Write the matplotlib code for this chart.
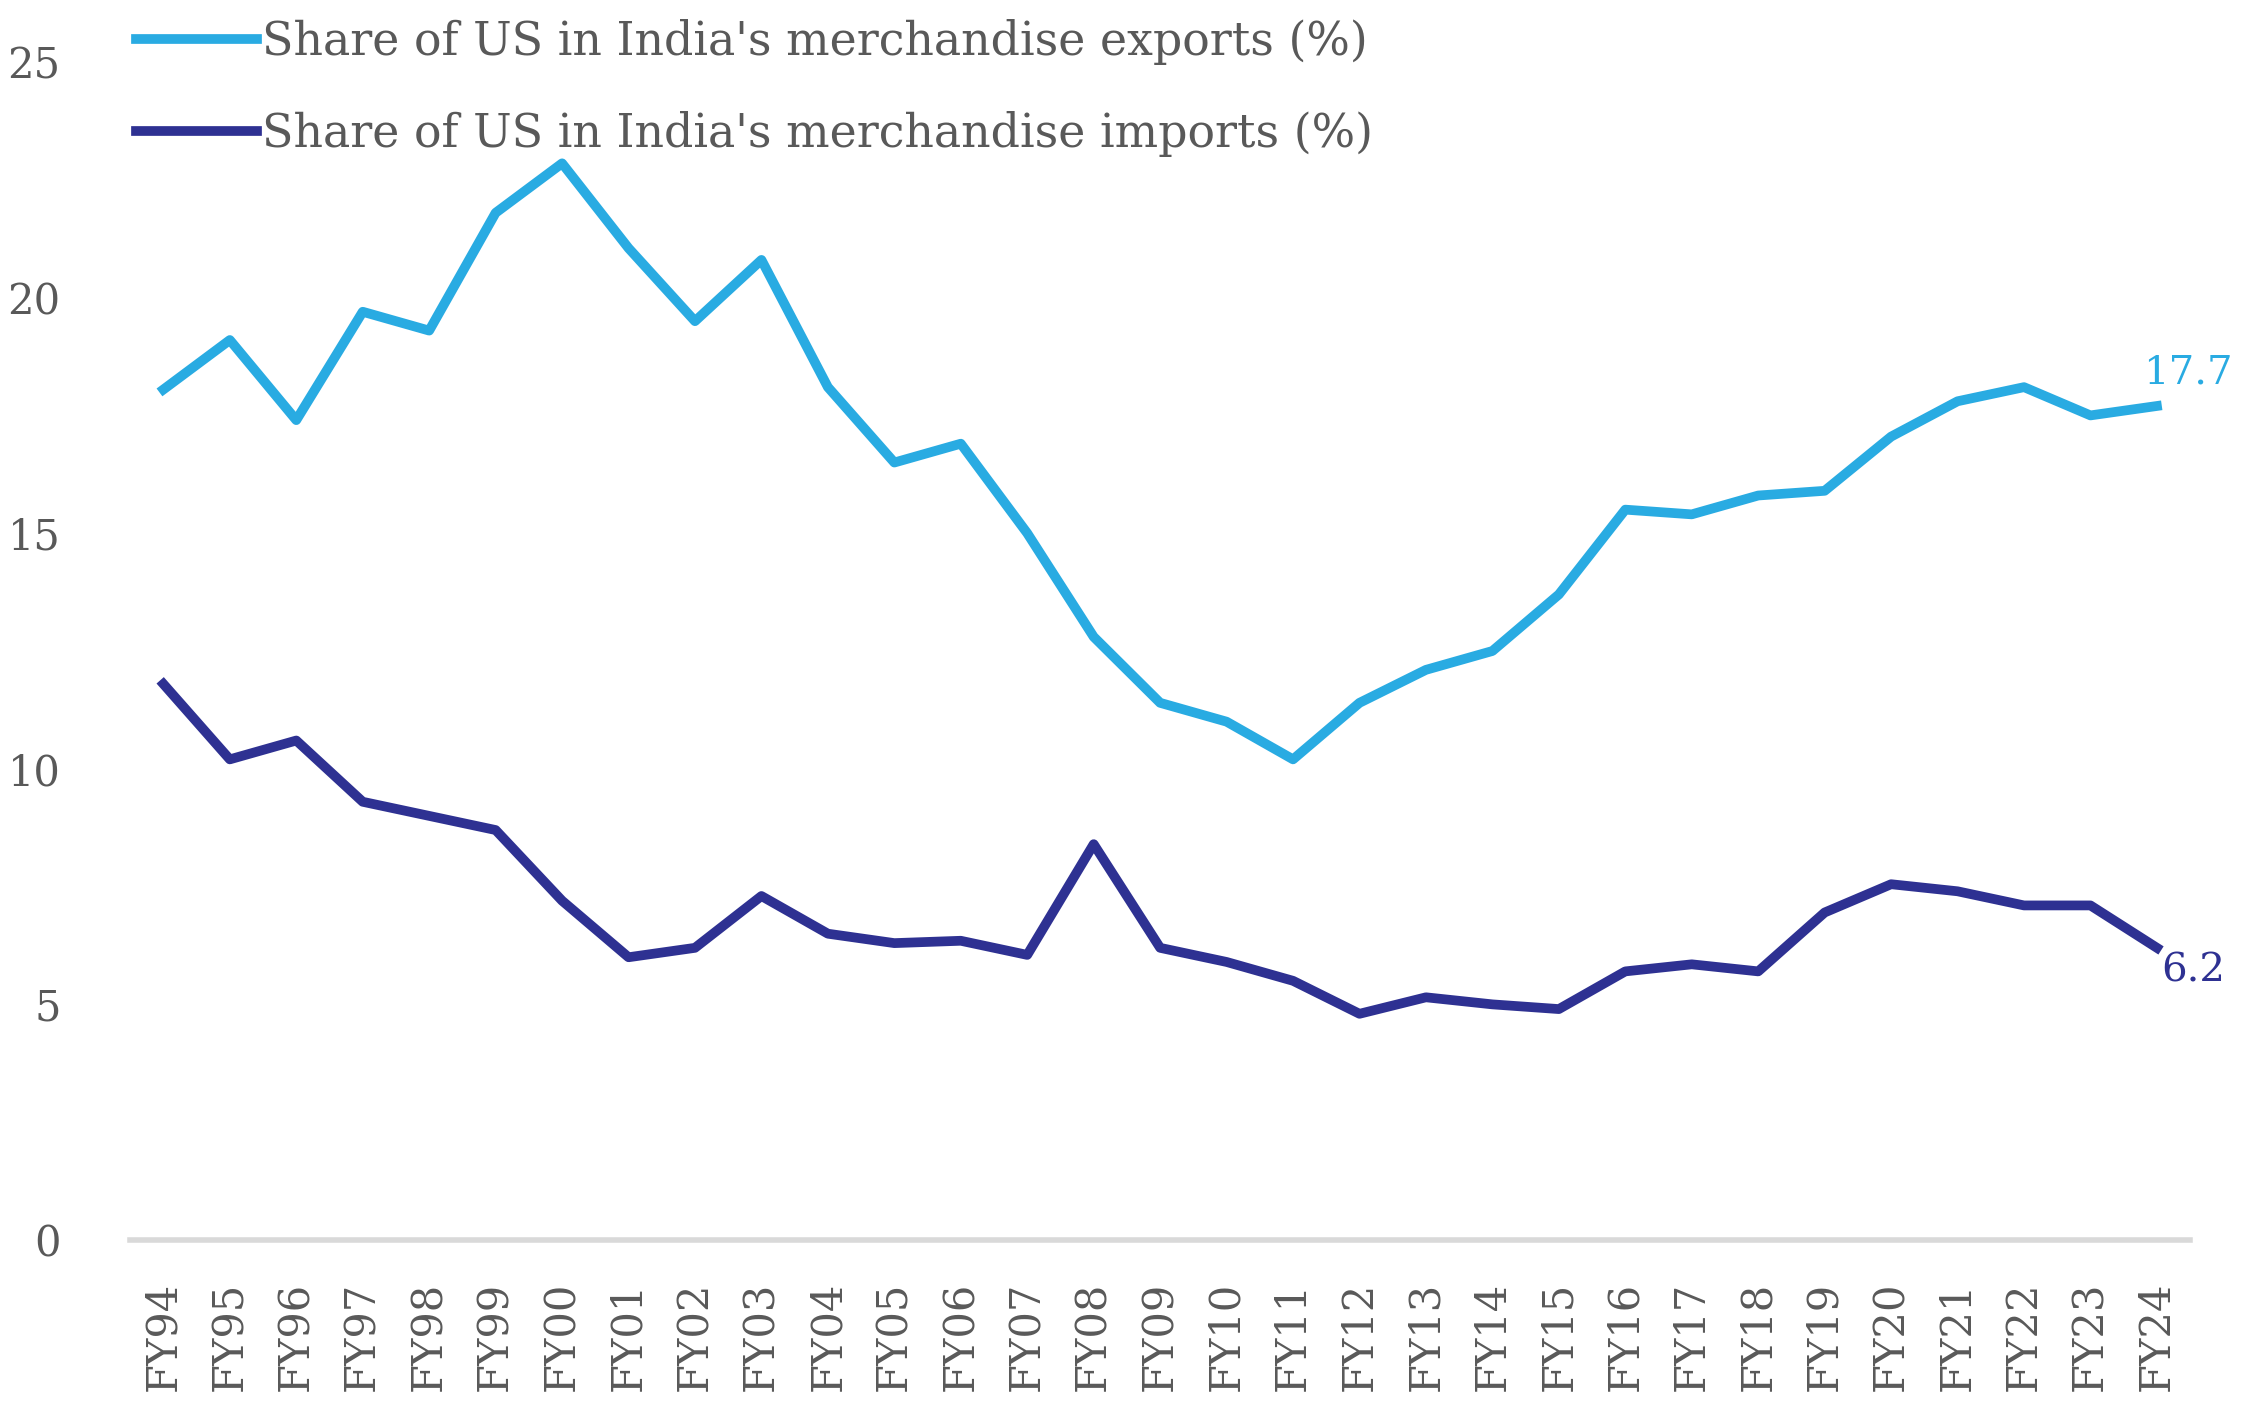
import matplotlib
matplotlib.use('Agg')
import matplotlib.pyplot as plt

years = ['FY94', 'FY95', 'FY96', 'FY97', 'FY98', 'FY99', 'FY00', 'FY01', 'FY02', 'FY03',
         'FY04', 'FY05', 'FY06', 'FY07', 'FY08', 'FY09', 'FY10', 'FY11', 'FY12', 'FY13',
         'FY14', 'FY15', 'FY16', 'FY17', 'FY18', 'FY19', 'FY20', 'FY21', 'FY22', 'FY23', 'FY24']
exports_share = [18.05, 19.1, 17.4, 19.7, 19.3, 21.8, 22.85, 21.05, 19.5, 20.8,
                 18.1, 16.5, 16.9, 15.0, 12.8, 11.4, 11.0, 10.2, 11.4, 12.1,
                 12.5, 13.7, 15.5, 15.4, 15.8, 15.9, 17.05, 17.8, 18.1, 17.5, 17.7]
imports_share = [11.8, 10.2, 10.6, 9.3, 9.0, 8.7, 7.2, 6.0, 6.2, 7.3,
                 6.5, 6.3, 6.35, 6.05, 8.4, 6.2, 5.9, 5.5, 4.8, 5.15,
                 5.0, 4.9, 5.7, 5.85, 5.7, 6.95, 7.55, 7.4, 7.1, 7.1, 6.2]
yticks = [0, 5, 10, 15, 20, 25]

light_blue = '#29ABE2'
navy = '#2E3192'
grey_text = '#595959'

plt.rcParams['font.family'] = ['DejaVu Serif']

fig = plt.figure(figsize=(22.44, 14.10), dpi=100)
ax = fig.add_axes([0.058, 0.1206, 0.918, 0.8354])

x = list(range(len(years)))
ax.plot(x, exports_share, color=light_blue, lw=7, solid_joinstyle='round',
        label="Share of US in India's merchandise exports (%)")
ax.plot(x, imports_share, color=navy, lw=7, solid_joinstyle='round',
        label="Share of US in India's merchandise imports (%)")

ax.set_xlim(-0.5, len(years) - 0.5)
ax.set_ylim(0, 25)
ax.set_yticks(yticks)
ax.set_xticks(x)
ax.set_xticklabels(years, rotation=90, va='top', ha='center')
ax.tick_params(axis='both', length=0, labelsize=30, labelcolor=grey_text)
ax.tick_params(axis='x', pad=30)
ax.tick_params(axis='y', pad=50)

for s in ['top', 'right', 'left']:
    ax.spines[s].set_visible(False)
ax.spines['bottom'].set_color('#d9d9d9')
ax.spines['bottom'].set_linewidth(4)

# end-of-series value labels
ax.annotate(f'{exports_share[-1]:.1f}', (x[-1], exports_share[-1]), xytext=(-10, 24),
            textcoords='offset points', ha='left', va='center', color=light_blue, fontsize=29)
ax.annotate(f'{imports_share[-1]:.1f}', (x[-1], imports_share[-1]), xytext=(3, -17),
            textcoords='offset points', ha='left', va='center', color=navy, fontsize=29)

leg = fig.legend(loc='upper left', bbox_to_anchor=(0.0606, 0.9865), frameon=False,
                 fontsize=33, handlelength=2.65, handletextpad=0.1, labelspacing=1.0,
                 borderpad=0, borderaxespad=0)
for t in leg.get_texts():
    t.set_color(grey_text)

fig.savefig('out.png', dpi=100)
